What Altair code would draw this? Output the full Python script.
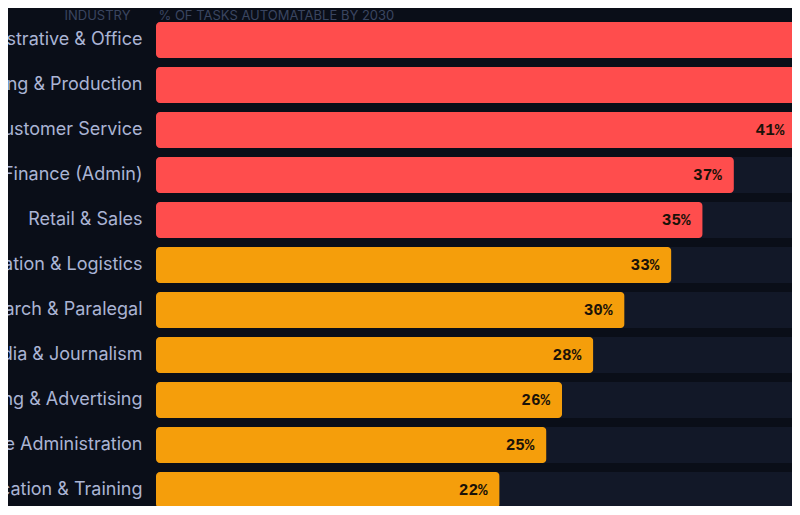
import altair as alt
import pandas as pd

industries = [
    "Administrative & Office",
    "Manufacturing & Production",
    "Customer Service",
    "Finance (Admin)",
    "Retail & Sales",
    "Transportation & Logistics",
    "Legal Research & Paralegal",
    "Media & Journalism",
    "Marketing & Advertising",
    "Healthcare Administration",
    "Education & Training",
]
automatable = [47, 44, 41, 37, 35, 33, 30, 28, 26, 25, 22]
risk = ["high"] * 5 + ["medium"] * 6

BG = "#0a0e18"
TRACK = "#121828"
RED = "#ff4d4d"
AMBER = "#f59e0b"
LABEL = "#aab4d4"
HEADER = "#3a4560"

df = pd.DataFrame({"industry": industries, "value": automatable, "risk": risk})
df["full"] = 100

# header row sits in the strip above the first bar
header_style = dict(
    titleY=2,
    titleAlign="left",
    titleBaseline="alphabetic",
    titleFont="Inter",
    titleFontSize=13,
    titleFontWeight="normal",
    titleColor=HEADER,
)

y_enc = alt.Y(
    "industry:N",
    sort=industries,
    scale=alt.Scale(paddingInner=0.2, paddingOuter=0.1, range=[0, 495]),
    axis=alt.Axis(
        title="INDUSTRY",
        titleAngle=0,
        titleX=-92,
        labelFont="Inter",
        labelFontSize=18,
        labelColor=LABEL,
        labelPadding=14,
        labelLimit=400,
        ticks=False,
        domain=False,
        grid=False,
        **header_style,
    ),
)

x_scale = alt.Scale(domain=[0, 40.72], nice=False)

base = alt.Chart(df)

track = base.mark_bar(color=TRACK, cornerRadius=4).encode(
    x=alt.X(
        "full:Q",
        scale=x_scale,
        axis=alt.Axis(
            orient="top",
            title="% OF TASKS AUTOMATABLE BY 2030",
            titleX=2,
            labels=False,
            ticks=False,
            domain=False,
            grid=False,
            **header_style,
        ),
    ),
    y=y_enc,
)

bars = base.mark_bar(cornerRadius=4).encode(
    x=alt.X("value:Q", scale=x_scale),
    y=y_enc,
    color=alt.Color(
        "risk:N",
        scale=alt.Scale(domain=["high", "medium"], range=[RED, AMBER]),
        legend=None,
    ),
)

values = (
    base.transform_calculate(label="datum.value + '%'")
    .mark_text(
        align="right",
        baseline="middle",
        dx=-12,
        font="Liberation Mono",
        fontSize=16,
        fontWeight="bold",
        color="#1a1208",
    )
    .encode(x=alt.X("value:Q", scale=x_scale), y=y_enc, text="label:N")
)

chart = (
    alt.layer(track, bars, values)
    .properties(
        width=636,
        height=488,
        autosize=alt.AutoSizeParams(type="none"),
        padding={"left": 148, "top": 9.5, "right": 0, "bottom": 0},
        background=BG,
    )
    .configure_view(stroke=None)
)

chart.save("out.html", embed_options={"renderer": "svg", "actions": False})
